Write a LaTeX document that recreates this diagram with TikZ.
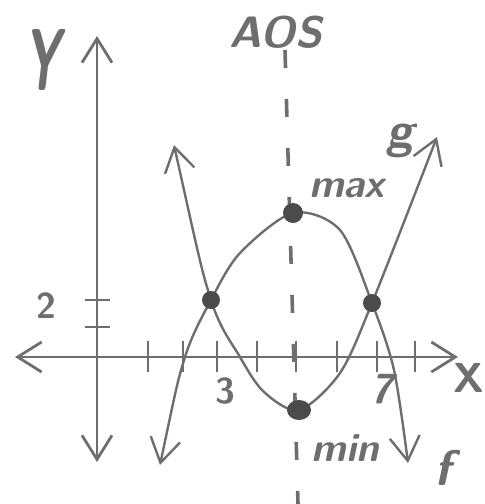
\documentclass[tikz,border=0pt]{standalone}
\usepackage{xcolor}
\usepackage{tikz}
\usetikzlibrary{arrows.meta}
\definecolor{pencil}{RGB}{110,110,110}
\definecolor{pencildark}{RGB}{75,75,75}

\begin{document}
\begin{tikzpicture}[x=1pt, y=-1pt, >={Straight Barb[length=24pt, width=30pt]},
    axis/.style={<->, line width=2.8pt, pencil},
    curve/.style={<->, line width=2.4pt, pencil},
    tickmark/.style={line width=2.6pt, pencil},
    aos/.style={line width=3.6pt, pencil, dash pattern=on 18pt off 31pt},
    hand/.style={pencil, inner sep=0pt},
    dot/.style={pencildark}]
    \useasboundingbox (0,0) rectangle (485,504);

    % points on the two parabolas
    \coordinate (pL) at (211,300);
    \coordinate (pR) at (372,303);
    \coordinate (pmax) at (293,213);
    \coordinate (pmin) at (299,410);

    % axes
    \draw[axis] (15,357) -- (458,357);
    \draw[axis] (97,36) -- (97,462);
    \foreach \t in {148,183,217,257,296,337,377,415}
        \draw[tickmark] (\t,341) -- (\t,372);
    \foreach \t in {300,327}
        \draw[tickmark] (85,\t) -- (110,\t);

    % axis of symmetry
    \draw[aos] (285,50) -- (298,504);

    % f and g
    \draw[curve] plot[smooth, tension=0.5] coordinates {(160,465) (185,357) (pL)
        (240,253) (pmax) (340,230) (pR) (394,370) (408,463)};
    \draw[curve] plot[smooth, tension=0.5] coordinates {(174,145) (pL) (240,357)
        (264,392) (pmin) (340,373) (pR) (437,137)};

    \fill[dot] (pmax) circle (10);
    \fill[dot] (pmin) ellipse (12 and 10);
    \fill[dot] (pL) circle (9);
    \fill[dot] (pR) circle (9);

    % labels
    \node[hand, xscale=0.55, font=\fontsize{88}{88}\sffamily\bfseries\itshape] (ylab) at (42,60) {Y};
    \node[hand, font=\fontsize{42}{42}\sffamily\bfseries] (xlab) at (469,378) {X};
    \node[hand, font=\fontsize{44}{44}\sffamily\bfseries\itshape] (aoslab) at (276,32) {AOS};
    \node[hand, font=\fontsize{36}{36}\sffamily\bfseries] (two) at (46,306) {2};
    \node[hand, font=\fontsize{36}{36}\sffamily\bfseries] (three) at (225,391) {3};
    \node[hand, font=\fontsize{42}{42}\sffamily\bfseries\itshape] (seven) at (382,389) {7};
    \node[hand, font=\fontsize{40}{40}\sffamily\bfseries\itshape] (maxlab) at (347,188) {max};
    \node[hand, font=\fontsize{40}{40}\sffamily\bfseries\itshape] (minlab) at (345,448) {min};
    \node[hand, font=\fontsize{50}{50}\sffamily\bfseries\itshape] (glab) at (400,141) {g};
    \node[hand, font=\fontsize{50}{50}\sffamily\bfseries\itshape] (flab) at (443,468) {f};
\end{tikzpicture}
\end{document}
